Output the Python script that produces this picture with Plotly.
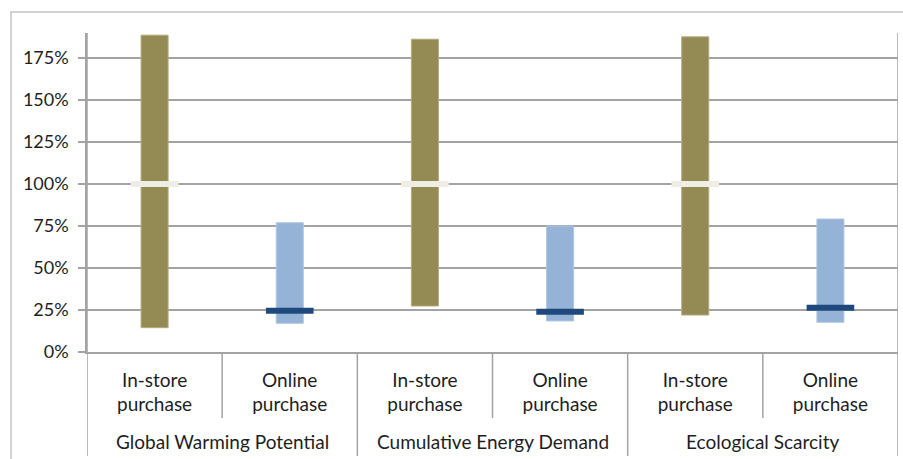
import plotly.graph_objects as go

# Impact categories and purchase channels
groups = ["Global Warming Potential", "Cumulative Energy Demand", "Ecological Scarcity"]
channels = ["In-store<br>purchase", "Online<br>purchase"]

# Ranges (low/high) and reference marks, as share of the in-store reference
instore_low = [0.145, 0.274, 0.22]
instore_high = [1.887, 1.863, 1.877]
instore_mark = [1.0, 1.0, 1.0]

online_low = [0.171, 0.185, 0.177]
online_high = [0.770, 0.750, 0.792]
online_mark = [0.246, 0.240, 0.264]

y_ticks = [0, 0.25, 0.5, 0.75, 1.0, 1.25, 1.5, 1.75]

FONT = "Lato, 'Open Sans', sans-serif"
GRID = "#a3a3a3"
TEXT = "#1e1e1e"

n = len(groups)
x_in = [2 * i for i in range(n)]
x_on = [2 * i + 1 for i in range(n)]

fig = go.Figure()

# Floating range bars
fig.add_trace(go.Bar(
    x=x_in, base=instore_low,
    y=[h - l for h, l in zip(instore_high, instore_low)],
    width=0.2, marker=dict(color="#948A54", line=dict(color="#b3ab7c", width=1)),
    hoverinfo="skip",
))
fig.add_trace(go.Bar(
    x=x_on, base=online_low,
    y=[h - l for h, l in zip(online_high, online_low)],
    width=0.2, marker=dict(color="#95B3D7", line=dict(color="#aec6e2", width=1)),
    hoverinfo="skip",
))

# Horizontal reference marks
fig.add_trace(go.Scatter(
    x=x_in, y=instore_mark, mode="markers",
    marker=dict(symbol="line-ew", size=34, line=dict(color="#F0EEE4", width=6)),
    hoverinfo="skip",
))
fig.add_trace(go.Scatter(
    x=x_on, y=online_mark, mode="markers",
    marker=dict(symbol="line-ew", size=34, line=dict(color="#1F497D", width=6)),
    hoverinfo="skip",
))

# Category dividers below the axis
shapes = []
for k in range(n + 1):
    xb = 2 * k - 0.5
    shapes.append(dict(type="line", xref="x", yref="paper", x0=xb, x1=xb,
                       y0=1.0 if k in (0, n) else 0.0, y1=-0.326,
                       line=dict(color=GRID, width=1.5)))
for k in range(n):
    xb = 2 * k + 0.5
    shapes.append(dict(type="line", xref="x", yref="paper", x0=xb, x1=xb,
                       y0=0.0, y1=-0.207, line=dict(color=GRID, width=1.5)))
# Chart frame
shapes.append(dict(type="rect", xref="paper", yref="paper",
                   x0=-0.0937, x1=1.01, y0=-0.345, y1=1.0658,
                   line=dict(color="#c4c4c4", width=1.5), layer="below"))

annotations = [
    dict(x=2 * i + 0.5, y=-0.282, xref="x", yref="paper", text=g,
         showarrow=False, yanchor="middle", xanchor="center",
         font=dict(family=FONT, size=19, color=TEXT))
    for i, g in enumerate(groups)
]

fig.update_layout(
    width=903, height=459,
    margin=dict(l=87, r=5, t=33, b=107),
    paper_bgcolor="white", plot_bgcolor="white",
    showlegend=False, barmode="overlay",
    shapes=shapes, annotations=annotations,
    xaxis=dict(
        range=[-0.5, 2 * n - 0.5],
        tickvals=list(range(2 * n)),
        ticktext=[channels[j % 2] for j in range(2 * n)],
        tickfont=dict(family=FONT, size=19, color=TEXT),
        showgrid=False, zeroline=False,
        showline=True, linecolor=GRID, linewidth=1.5,
        ticks="", ticklabelstandoff=10,
    ),
    yaxis=dict(
        range=[0, 1.9],
        tickvals=y_ticks, tickformat=".0%",
        tickfont=dict(family=FONT, size=18, color=TEXT),
        showgrid=True, gridcolor=GRID, gridwidth=1.5,
        zeroline=False,
        showline=True, linecolor=GRID, linewidth=1.5,
        ticks="outside", ticklen=7, tickcolor=GRID, tickwidth=1.5,
        ticklabelstandoff=6,
    ),
)

fig.write_html("out.html")
